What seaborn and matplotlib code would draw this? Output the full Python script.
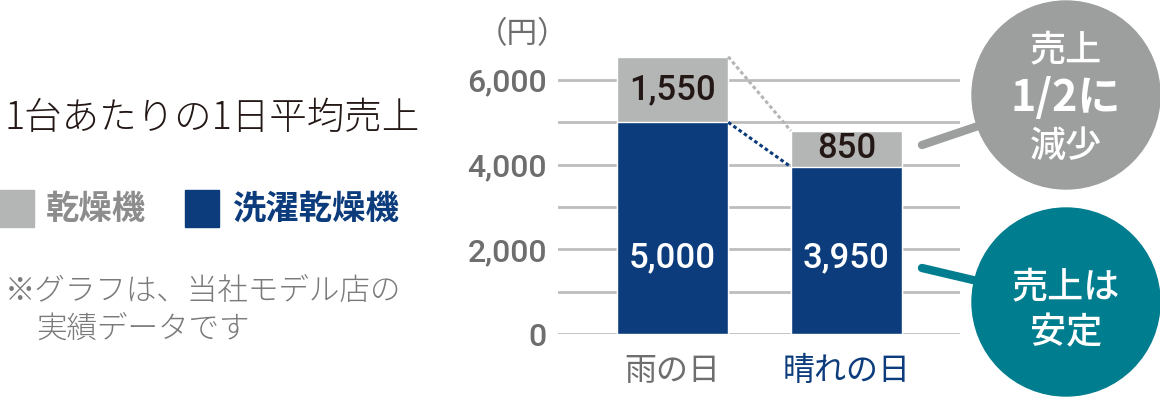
import numpy as np
import pandas as pd
import matplotlib
matplotlib.use("Agg")
import matplotlib.pyplot as plt
from matplotlib.patches import Circle, Rectangle
import seaborn as sns

# data
days = ["雨の日", "晴れの日"]
washer_dryer = [5000, 3950]   # 洗濯乾燥機
dryer = [1550, 850]           # 乾燥機
y_ticks = [0, 2000, 4000, 6000]

NAVY = "#0c3c7c"
GRAY_BAR = "#b4b5b5"
GRID = "#bdbdbd"
TICK = "#6e6e6e"
TEAL = "#007d8e"
GRAY_CIRCLE = "#9d9e9e"
DARK = "#231815"
NUM_FONT = ['Roboto', 'DejaVu Sans']

sns.set_style("white")
plt.rcParams['font.family'] = ['Noto Sans CJK JP', 'DejaVu Sans']

df = pd.DataFrame({"day": days, "washer_dryer": washer_dryer, "dryer": dryer})
df["total"] = df["washer_dryer"] + df["dryer"]

fig = plt.figure(figsize=(11.6, 4), dpi=100)
ax = fig.add_axes([0.481, 0.165, 0.3466, 0.6985])

# stacked bars: total (gray) behind, washer-dryer (navy) in front
sns.barplot(data=df, x="day", y="total", color=GRAY_BAR, width=0.64,
            saturation=1, ax=ax, zorder=3)
sns.barplot(data=df, x="day", y="washer_dryer", color=NAVY, width=0.64,
            saturation=1, ax=ax, zorder=3)

ax.set_xlim(-0.658, 1.652)
ax.set_ylim(0, 6600)
ax.set_yticks(y_ticks)
ax.set_yticks(np.arange(1000, 6001, 2000), minor=True)
ax.set_yticklabels([f"{v:,}" for v in y_ticks], fontsize=23, color=TICK,
                   family=NUM_FONT, fontweight="medium")
ax.grid(axis="y", which="both", color=GRID, linewidth=2, zorder=0)
ax.grid(axis="x", visible=False)
ax.tick_params(axis="y", which="both", length=0, pad=8)
ax.tick_params(axis="x", length=0, pad=15)
ax.set_xticks(range(len(days)))
ax.set_xticklabels(days, fontsize=23)
for lbl, c in zip(ax.get_xticklabels(), [TICK, NAVY]):
    lbl.set_color(c)
ax.set_xlabel("")
ax.set_ylabel("")
sns.despine(ax=ax, left=True, bottom=True, right=True, top=True)

# value labels
bars = ax.patches
n = len(days)
gray_bars = bars[:n]
navy_bars = bars[n:]
for i in range(n):
    cx = navy_bars[i].get_x() + navy_bars[i].get_width() / 2
    ax.text(cx, 1800, f"{washer_dryer[i]:,}", ha="center", va="center",
            color="white", fontsize=25, family=NUM_FONT, fontweight="medium", zorder=5)
    ax.text(cx, washer_dryer[i] + dryer[i] / 2, f"{dryer[i]:,}", ha="center", va="center",
            color=DARK, fontsize=25, family=NUM_FONT, fontweight="medium", zorder=5)

# dotted connectors between bars
x0 = gray_bars[0].get_x() + gray_bars[0].get_width()
x1 = gray_bars[1].get_x()
ax.plot([x0, x1], [df["total"][0], df["total"][1]], color=GRAY_BAR, lw=2.2,
        linestyle=(0, (1.2, 0.9)), zorder=4)
ax.plot([x0, x1], [washer_dryer[0], washer_dryer[1]], color=NAVY, lw=2.2,
        linestyle=(0, (1.2, 0.9)), zorder=4)

# decorations in pixel space
deco = fig.add_axes([0, 0, 1, 1], zorder=10)
deco.set_xlim(0, 1160)
deco.set_ylim(400, 0)
deco.axis("off")
deco.patch.set_alpha(0)

deco.text(523, 35, "（円）", ha="center", va="center", fontsize=22, color=TICK)

deco.text(5, 118, "1台あたりの1日平均売上", ha="left", va="center", fontsize=27,
          color=DARK, fontweight="light")
deco.add_patch(Rectangle((0, 190), 34, 37, color=GRAY_BAR))
deco.text(46, 209, "乾燥機", ha="left", va="center", fontsize=24, color="#8d8d8d",
          fontweight="bold")
deco.add_patch(Rectangle((185, 190), 34, 37, color=NAVY))
deco.text(232, 209, "洗濯乾燥機", ha="left", va="center", fontsize=24, color=NAVY,
          fontweight="bold")
deco.text(5, 291, "※グラフは、当社モデル店の", ha="left", va="center", fontsize=22,
          color="#7a7a7a", fontweight="light")
deco.text(36, 329, "実績データです", ha="left", va="center", fontsize=22,
          color="#7a7a7a", fontweight="light")

# callouts
deco.plot([922, 990], [145, 122], color=GRAY_CIRCLE, lw=6, solid_capstyle="round")
deco.add_patch(Circle((1066, 95), 94, color=GRAY_CIRCLE))
deco.text(1066, 50, "売上", ha="center", va="center", fontsize=26, color="white",
          fontweight="medium")
deco.text(1066, 98, "1/2に", ha="center", va="center", fontsize=31, color="white",
          fontweight="bold")
deco.text(1066, 147, "減少", ha="center", va="center", fontsize=26, color="white",
          fontweight="medium")

deco.plot([922, 990], [268, 284], color=TEAL, lw=6, solid_capstyle="round")
deco.add_patch(Circle((1066, 302), 94, color=TEAL))
deco.text(1066, 287, "売上は", ha="center", va="center", fontsize=26, color="white",
          fontweight="medium")
deco.text(1066, 333, "安定", ha="center", va="center", fontsize=26, color="white",
          fontweight="medium")

fig.savefig("out.png", dpi=100)
